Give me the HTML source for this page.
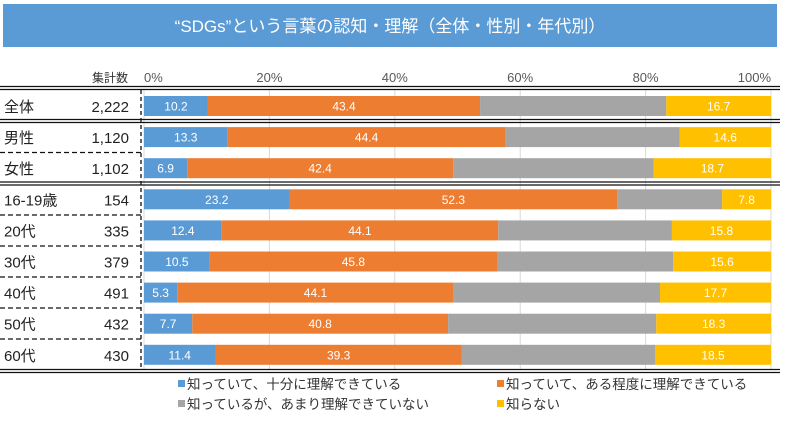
<!DOCTYPE html>
<html><head><meta charset="utf-8">
<style>
body{margin:0;width:800px;height:426px;background:#fff;overflow:hidden;font-family:"Liberation Sans","Noto Sans CJK JP",sans-serif;}
</style></head><body>
<svg width="800" height="426" xmlns="http://www.w3.org/2000/svg" font-family="Liberation Sans, Noto Sans CJK JP, sans-serif">
<rect x="3" y="4" width="774" height="43" fill="#5b9bd5"/>
<text x="390" y="32" fill="#fff" font-size="17" text-anchor="middle">“SDGs”という言葉の認知・理解（全体・性別・年代別）</text>
<g id="grid"></g><g id="bars"></g><g id="rules"></g><g id="labels"></g><g id="legend"></g>
</svg>
<script>
const categories=["全体","男性","女性","16-19歳","20代","30代","40代","50代","60代"];
const counts=["2,222","1,120","1,102","154","335","379","491","432","430"];
const fully=[10.2,13.3,6.9,23.2,12.4,10.5,5.3,7.7,11.4];
const somewhat=[43.4,44.4,42.4,52.3,44.1,45.8,44.1,40.8,39.3];
const unknown=[16.7,14.6,18.7,7.8,15.8,15.6,17.7,18.3,18.5];
const ticks=[0,20,40,60,80,100];
const seriesNames=["知っていて、十分に理解できている","知っていて、ある程度に理解できている","知っているが、あまり理解できていない","知らない"];
const colors=["#5b9bd5","#ed7d31","#a5a5a5","#ffc000"];
const NS="http://www.w3.org/2000/svg";
const X0=144,X1=771;
const xs=v=>X0+(X1-X0)*v/100;
const yc=i=>106+i*31.1;
function mk(tag,attrs,parent,txt){const e=document.createElementNS(NS,tag);for(const k in attrs)e.setAttribute(k,attrs[k]);if(txt!==undefined)e.textContent=txt;document.getElementById(parent).appendChild(e);return e;}
ticks.forEach(t=>{
 const l=mk('line',{x1:xs(t),x2:xs(t),y1:90,y2:370,stroke:'#d9d9d9','stroke-width':1},'grid');
 
 
 const tx=mk('text',{x:xs(t),y:82,'font-size':13,fill:'#595959','text-anchor':t===0?'start':(t===100?'end':'middle')},'grid',t+'%');
 
 
});
const h=mk('text',{x:128,y:82,'font-size':12,fill:'#333','text-anchor':'end'},'labels','集計数');


categories.forEach((c,i)=>{
 const vals=[fully[i],somewhat[i],100-fully[i]-somewhat[i]-unknown[i],unknown[i]];
 let acc=0;
 vals.forEach((v,s)=>{
  const r=mk('rect',{x:xs(acc),y:yc(i)-10,width:xs(acc+v)-xs(acc),height:20,fill:colors[s]},'bars');
  
  
  if(s!==2){
   const t=mk('text',{x:(xs(acc)+xs(acc+v))/2,y:yc(i)+4.5,'font-size':12,fill:'#fff','text-anchor':'middle'},'bars',v.toFixed(1));
   
   
  }
  acc+=v;
 });
 const a=mk('text',{x:4,y:yc(i)+6,'font-size':15,fill:'#222'},'labels',c);
 
 
 const b=mk('text',{x:129,y:yc(i)+6,'font-size':15,fill:'#222','text-anchor':'end'},'labels',counts[i]);
 
 
});
function dbl(y){[y-1.5,y+1.5].forEach(yy=>{const l=mk('line',{x1:0,x2:780,y1:yy,y2:yy,stroke:'#111','stroke-width':1.2},'rules');});}
function dash(y){const l=mk('line',{x1:0,x2:141,y1:y,y2:y,stroke:'#111','stroke-width':1.3,'stroke-dasharray':'5,3'},'rules');}
dbl(88);dbl(121);dbl(183.5);dbl(371);
[152.5,215,246,277,308,339].forEach(dash);
const v=mk('line',{x1:141,x2:141,y1:90,y2:370,stroke:'#111','stroke-width':1.3,'stroke-dasharray':'4,3'},'rules');


const lp=[[178,389],[497,389],[178,409],[497,409]];
seriesNames.forEach((n,s)=>{
 const r=mk('rect',{x:lp[s][0],y:lp[s][1]-9,width:7,height:7,fill:colors[s]},'legend');
 
 
 const t=mk('text',{x:lp[s][0]+9,y:lp[s][1],'font-size':13.5,fill:'#333'},'legend',n);
 
 
});
</script>
</body></html>
